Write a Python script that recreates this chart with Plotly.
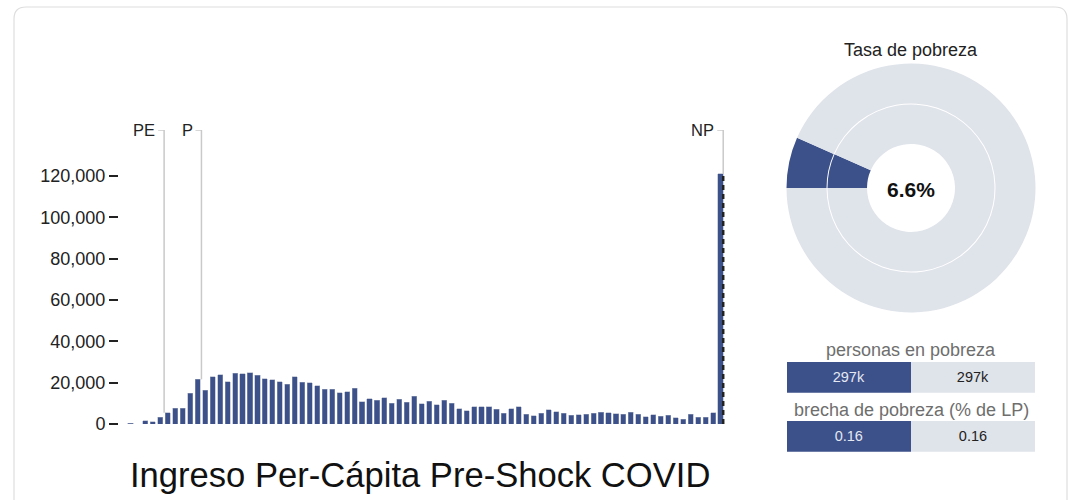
import plotly.graph_objects as go

# ---------------- data ----------------
bin_values = [400, 0, 1500, 1200, 3200, 5500, 7600, 7600, 15000, 21600,
              16300, 22900, 23900, 20500, 24500, 24200, 24800, 23700, 21800, 21300,
              20500, 19200, 22900, 20300, 20000, 18500, 16800, 16800, 15100, 15600,
              17300, 10800, 12200, 11500, 12700, 10000, 11900, 10600, 13500, 9700,
              10900, 9200, 11400, 10100, 7500, 6300, 8400, 8400, 8400, 7200,
              5200, 7400, 8400, 4600, 4000, 5200, 6800, 6000, 5200, 4300,
              4500, 4700, 5200, 5600, 5400, 5000, 4600, 5600, 4800, 3600,
              4400, 3700, 4300, 3000, 2400, 4600, 3200, 3200, 5500, 121000]
bin_index = list(range(len(bin_values)))

marker_labels = ["PE", "P", "NP"]
marker_bins = [4.5, 9.5, 79.5]   # bin boundaries of the poverty lines

y_ticks = [0, 20000, 40000, 60000, 80000, 100000, 120000]

poverty_rate = 6.6
donut_labels = ["pobres", "no pobres"]

table_titles = ["personas en pobreza", "brecha de pobreza (% de LP)"]
table_pre = ["297k", "0.16"]
table_post = ["297k", "0.16"]

chart_title = "Ingreso Per-Cápita Pre-Shock COVID"

# ---------------- style ----------------
W, H = 1069, 500        # reference pixel frame
FIG_H = 510             # figure height (screenshot is squeezed to 500)
BLUE = "#3c508a"
GRAY = "#dfe3ea"
FONT = "Liberation Sans, Arial, sans-serif"


def px_x(p):
    return p / W


def px_y(p):
    return 1 - p / H


ymax = 142258  # axis top (px 130)

fig = go.Figure()

# histogram bars
fig.add_trace(go.Bar(
    x=bin_index, y=bin_values, width=0.68,
    marker=dict(color=BLUE, line=dict(color="#9aa3bb", width=0.5)),
    hoverinfo="skip", xaxis="x", yaxis="y", showlegend=False,
))

# donut: outer and inner rings
fig.add_trace(go.Pie(
    values=[poverty_rate, 100 - poverty_rate], labels=donut_labels,
    domain=dict(x=[px_x(786.5), px_x(1035.5)], y=[px_y(312.5), px_y(63.5)]),
    hole=84.5 / 124.5, sort=False, direction="clockwise", rotation=270,
    textinfo="none", hoverinfo="skip", showlegend=False,
    marker=dict(colors=[BLUE, GRAY], line=dict(width=0)),
))
fig.add_trace(go.Pie(
    values=[poverty_rate, 100 - poverty_rate], labels=donut_labels,
    domain=dict(x=[px_x(827.5), px_x(994.5)], y=[px_y(271.5), px_y(104.5)]),
    hole=44 / 83.5, sort=False, direction="clockwise", rotation=270,
    textinfo="none", hoverinfo="skip", showlegend=False,
    marker=dict(colors=[BLUE, GRAY], line=dict(width=0)),
))

# small tables as stacked bars
for i in range(2):
    xa = "x%d" % (i + 2)
    ya = "y%d" % (i + 2)
    fig.add_trace(go.Bar(
        x=[1], y=[0], orientation="h", width=1, text=[table_pre[i]],
        textposition="inside", insidetextanchor="middle",
        textfont=dict(color="#e4e8f2", size=14.5, family=FONT),
        marker=dict(color=BLUE, line=dict(width=0)),
        hoverinfo="skip", showlegend=False, xaxis=xa, yaxis=ya,
    ))
    fig.add_trace(go.Bar(
        x=[1], y=[0], orientation="h", width=1, text=[table_post[i]],
        textposition="inside", insidetextanchor="middle",
        textfont=dict(color="#222222", size=14.5, family=FONT),
        marker=dict(color=GRAY, line=dict(width=0)),
        hoverinfo="skip", showlegend=False, xaxis=xa, yaxis=ya,
    ))

shapes = []
annotations = []

# poverty line markers
for lab, pos in zip(marker_labels, marker_bins):
    left = bin_values[int(pos - 0.5)]
    right = bin_values[int(pos + 0.5)] if int(pos + 0.5) < len(bin_values) else 0
    base = max(left, right)
    xpos = min(pos, len(bin_values) - 1 + 0.36)
    shapes.append(dict(type="line", xref="x", yref="y", x0=xpos, x1=xpos,
                       y0=base, y1=ymax, line=dict(color="#c9c9c9", width=1.5)))
    shapes.append(dict(type="line", xref="x", yref="y", x0=xpos - 0.8, x1=xpos,
                       y0=ymax, y1=ymax, line=dict(color="#c9c9c9", width=1.5)))
    annotations.append(dict(x=xpos - 0.9, y=ymax, xref="x", yref="y", text=lab,
                            showarrow=False, xanchor="right", yanchor="middle",
                            font=dict(size=16.5, color="#222222", family=FONT)))

# dashed outline of the NP bar
last = len(bin_values) - 1
shapes.append(dict(type="line", xref="x", yref="y", x0=last + 0.36, x1=last + 0.36,
                   y0=0, y1=bin_values[last],
                   line=dict(color="#222222", width=2.5, dash="5px,4px")))

# card border
x0, x1 = px_x(14), px_x(1067)
yt, yb = px_y(7), px_y(530)
rx, ry = 12 / W, 12 / H
path = (f"M {x0},{yb} L {x0},{yt - ry} Q {x0},{yt} {x0 + rx},{yt} "
        f"L {x1 - rx},{yt} Q {x1},{yt} {x1},{yt - ry} L {x1},{yb}")
shapes.append(dict(type="path", xref="paper", yref="paper", path=path,
                   line=dict(color="#dedede", width=1.2), layer="below"))


def paper_text(x, y, text, size, color):
    return dict(x=px_x(x), y=px_y(y), xref="paper", yref="paper", text=text,
                showarrow=False, xanchor="center", yanchor="middle",
                font=dict(size=size, color=color, family=FONT))


annotations += [
    paper_text(911, 50, "Tasa de pobreza", 18, "#222222"),
    paper_text(911, 189, "<b>%.1f%%</b>" % poverty_rate, 21, "#111111"),
    paper_text(911, 350, table_titles[0], 18, "#6e6e6e"),
    paper_text(911, 410, table_titles[1], 18, "#6e6e6e"),
    paper_text(420, 475, chart_title, 34.6, "#111111"),
]

hidden = dict(visible=False, showgrid=False, zeroline=False)

fig.update_layout(
    width=W, height=FIG_H, autosize=False,
    margin=dict(l=0, r=0, t=0, b=0),
    paper_bgcolor="white", plot_bgcolor="rgba(0,0,0,0)",
    font=dict(family=FONT),
    barmode="stack",
    showlegend=False,
    xaxis=dict(domain=[px_x(119), px_x(725)], range=[-1.54, 79.6], **hidden),
    yaxis=dict(domain=[px_y(424), px_y(130)], range=[0, ymax],
               showgrid=False, zeroline=False, showline=False,
               ticks="outside", ticklen=9, tickwidth=2, tickcolor="#222222",
               tickvals=y_ticks, tickformat=",d",
               tickfont=dict(size=18, color="#222222", family=FONT)),
    xaxis2=dict(domain=[px_x(786.7), px_x(1035)], range=[0, 2], anchor="y2", **hidden),
    yaxis2=dict(domain=[px_y(392.7), px_y(361.5)], range=[-0.5, 0.5], anchor="x2", **hidden),
    xaxis3=dict(domain=[px_x(786.7), px_x(1035)], range=[0, 2], anchor="y3", **hidden),
    yaxis3=dict(domain=[px_y(451.7), px_y(420.5)], range=[-0.5, 0.5], anchor="x3", **hidden),
    shapes=shapes,
    annotations=annotations,
)

fig.write_html("out.html",
               config={"responsive": False, "displayModeBar": False},
               post_script="document.body.style.margin='0';document.body.style.overflow='hidden';")
